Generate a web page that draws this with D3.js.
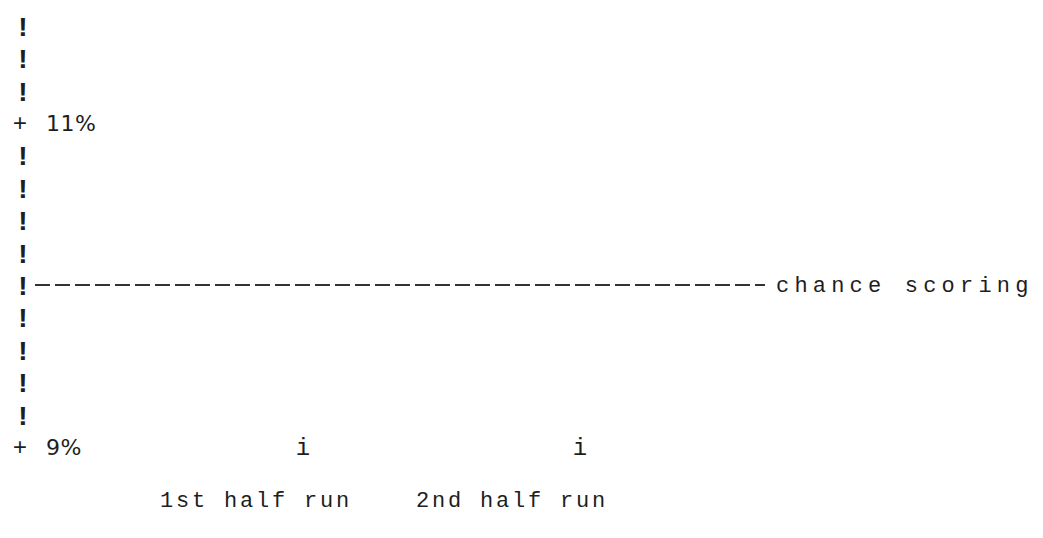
<!DOCTYPE html>
<html><head><meta charset="utf-8">
<script src="https://cdn.jsdelivr.net/npm/d3@7"></script>
<style>
body{margin:0;background:#fff;}
text{font-family:"Liberation Mono","DejaVu Sans Mono",monospace;fill:#1e1e1e;}
</style></head>
<body><svg id="c" width="1043" height="538"></svg>
<script>
const categories = ["1st half run", "2nd half run"];
const yTickLabels = [{v: 11, t: "11%"}, {v: 9, t: "9%"}];
const chanceLevel = 10;
const chanceLabel = "chance scoring";
const minorTicks = [9.2, 9.4, 9.6, 9.8, 10.0, 10.2, 10.4, 10.6, 10.8, 11.2, 11.4, 11.6];

const svg = d3.select("#c");
const y = d3.scaleLinear().domain([9, 11]).range([447, 123]);
const x = d3.scalePoint().domain(categories).range([303, 580]);
const xLabel = d3.scalePoint().domain(categories).range([256, 512]);
const axisX = 23;

// "!" ticks
svg.selectAll("text.bang").data(minorTicks).join("text")
  .attr("class", "bang")
  .attr("x", axisX).attr("y", d => y(d) + 10)
  .attr("text-anchor", "middle")
  .style("font-size", "28px").style("font-weight", "bold")
  .text("!");

// "+" major ticks and labels
const maj = svg.selectAll("g.maj").data(yTickLabels).join("g").attr("class", "maj");
maj.append("text").attr("x", axisX - 3).attr("y", d => y(d.v) + 8)
  .attr("text-anchor", "middle").style("font-size", "24px").text("+");
maj.append("text").attr("x", 46).attr("y", d => y(d.v) + 8)
  .style("font-family", "'DejaVu Sans', sans-serif").style("font-size", "22px")
  .style("letter-spacing", "0.5px").text(d => d.t);

// chance line
svg.append("line")
  .attr("x1", 35).attr("x2", 765)
  .attr("y1", y(chanceLevel)).attr("y2", y(chanceLevel))
  .attr("stroke", "#333").attr("stroke-width", 2)
  .attr("stroke-dasharray", "15,5");
svg.append("text").attr("x", 776).attr("y", y(chanceLevel) + 7)
  .style("font-size", "22px").style("letter-spacing", "5.2px").text(chanceLabel);

// category "i" ticks
svg.selectAll("text.itick").data(categories).join("text")
  .attr("class", "itick")
  .attr("x", d => x(d)).attr("y", y(9) + 8)
  .attr("text-anchor", "middle").style("font-size", "24px").text("i");

// category labels
svg.selectAll("text.cat").data(categories).join("text")
  .attr("class", "cat")
  .attr("x", d => xLabel(d)).attr("y", y(9) + 60)
  .attr("text-anchor", "middle").style("font-size", "22px")
  .style("letter-spacing", "2.8px").text(d => d);
</script></body></html>
